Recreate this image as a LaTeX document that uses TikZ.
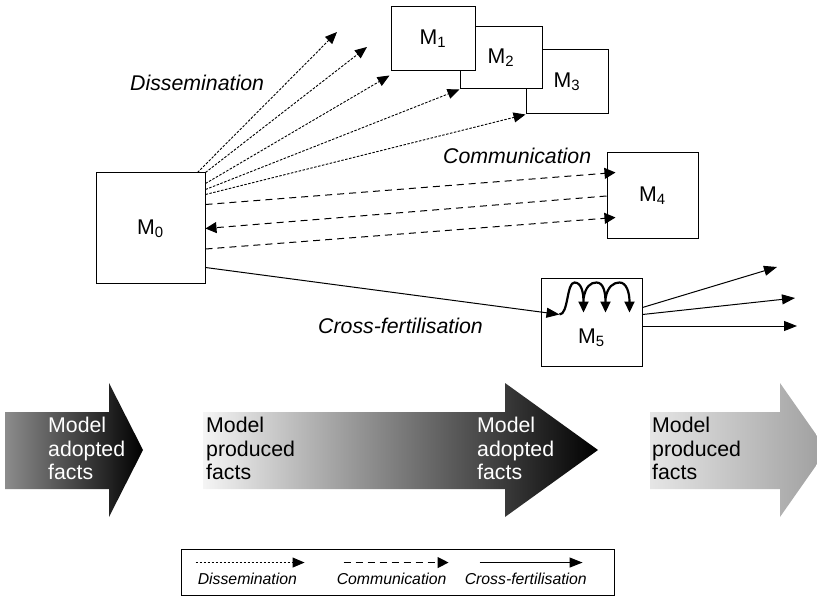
\documentclass[tikz,border=0pt]{standalone}
\usepackage{fontspec}
\setmainfont{Liberation Sans}
\usepackage{tikz}
\usetikzlibrary{arrows.meta,positioning,calc}

\newcommand{\mfont}{\fontsize{21.3pt}{23.5pt}\selectfont}
\newcommand{\legfont}{\fontsize{15.8pt}{18pt}\selectfont\itshape}

\begin{document}
\begin{tikzpicture}[
	x=1pt, y=-1pt,
	mbox/.style={rectangle, draw, fill=white, line width=1pt, inner sep=0pt, font=\mfont},
	dissem/.style={-{Triangle[length=12pt,width=10pt]}, dash pattern=on 2.5pt off 1.5pt, line width=0.9pt},
	commun/.style={-{Triangle[length=11pt,width=11pt]}, dash pattern=on 7pt off 5pt, line width=1pt},
	cross/.style={-{Triangle[length=13pt,width=10pt]}, line width=1pt},
	spiral/.style={-{Triangle[length=11pt,width=10pt]}, line width=2.2pt},
	flowlabel/.style={font={\mfont\itshape}, anchor=base west, inner sep=0pt},
	factstext/.style={font=\mfont, align=left, anchor=north west, inner sep=0pt},
	legtext/.style={font=\legfont, anchor=base west, inner sep=0pt}
]
\useasboundingbox (0,0) rectangle (817,596);

% models (M3 and M2 lie behind M1)
\node[mbox, minimum width=109pt, minimum height=111pt] (M0) at (150.5,228.5) {M\textsubscript{0}};
\node[mbox, minimum width=82pt, minimum height=64pt] (M3) at (567,82) {M\textsubscript{3}};
\node[mbox, minimum width=82pt, minimum height=62pt] (M2) at (501,58) {M\textsubscript{2}};
\node[mbox, minimum width=84pt, minimum height=64pt] (M1) at (433,39) {M\textsubscript{1}};
\node[mbox, minimum width=91pt, minimum height=86pt] (M4) at (652.5,196) {M\textsubscript{4}};
\node[mbox, minimum width=101pt, minimum height=87pt,
	label={[font=\mfont, yshift=-15pt]center:M\textsubscript{5}}] (M5) at (591.5,322.5) {};

% dissemination
\coordinate (d1) at (337,32);
\coordinate (d2) at (367,47);
\draw[dissem] ($(M0.north east)+(-8,0)$) -- (d1);
\draw[dissem] (M0.north east) -- (d2);
\draw[dissem] ($(M0.north east)+(0,11)$) -- ($(M1.south west)+(-1,4)$);
\draw[dissem] ($(M0.north east)+(0,17)$) -- (M2.south west);
\draw[dissem] ($(M0.north east)+(0,22)$) -- (M3.south west);

% communication
\draw[commun] ($(M0.north east)+(0,32)$) -- ($(M4.north west)+(9,20)$);
\draw[commun] (M4.west) -- (M0.east);
\draw[commun] ($(M0.east)+(0,20.5)$) -- ($(M4.south west)+(9,-22)$);

% cross-fertilisation
\draw[cross] ($(M0.south east)+(0,-17)$) -- ($(M5.north west)+(19,36)$);
\begin{scope}[shift={(M5.north west)}]
\draw[spiral] (19,36) .. controls (28,36) and (26,4) .. (34,4) .. controls (41,4) and (43,14) .. (43,34);
\draw[spiral] (43,20) .. controls (45,8) and (50,4) .. (56,4) .. controls (63,4) and (65,14) .. (65,34);
\draw[spiral] (65,20) .. controls (67,8) and (73,4) .. (79,4) .. controls (86,4) and (89,14) .. (89,34);
\end{scope}
\coordinate (o1) at (777,267);
\coordinate (o2) at (795,298);
\coordinate (o3) at (797,326);
\draw[cross] ($(M5.east)+(0,-15)$) -- (o1);
\draw[cross] ($(M5.east)+(0,-8)$) -- (o2);
\draw[cross] ($(M5.east)+(0,3.5)$) -- (o3);

\node[flowlabel] (dislabel) at (130,91) {Dissemination};
\node[flowlabel] (comlabel) at (443,164) {Communication};
\node[flowlabel] (crosslabel) at (318,334) {Cross-fertilisation};

% shaded fact arrows
\shade[left color=black!45, middle color=black!72, right color=black]
	(5,412) -- (109,412) -- (109,383) -- (143,450) -- (109,517) -- (109,489) -- (5,489) -- cycle;
\shade[left color=black!4, middle color=black!45, right color=black]
	(203,412) -- (505,412) -- (505,383) -- (598,450) -- (505,517) -- (505,489) -- (203,489) -- cycle;
\shade[left color=black!10, middle color=black!20, right color=black!38]
	(650,412) -- (780,412) -- (780,383) -- (827,450) -- (780,517) -- (780,489) -- (650,489) -- cycle;
\node[factstext, text=white] (adopted1) at (48,417) {Model\\adopted\\facts};
\node[factstext] (produced1) at (206,417) {Model\\produced\\facts};
\node[factstext, text=white] (adopted2) at (477,417) {Model\\adopted\\facts};
\node[factstext] (produced2) at (652,417) {Model\\produced\\facts};

% legend
\node[draw, line width=0.9pt, minimum width=433pt, minimum height=46pt, inner sep=0pt] (legend) at (397.5,572) {};
\draw[dissem] ($(legend.north west)+(15,14)$) -- ($(legend.north west)+(124,14)$);
\draw[commun] ($(legend.north west)+(163,14)$) -- ($(legend.north west)+(268,14)$);
\draw[cross] ($(legend.north west)+(299,14)$) -- ($(legend.north west)+(402,14)$);
\node[legtext] (legdis) at ($(legend.north west)+(17,36)$) {Dissemination};
\node[legtext] (legcom) at ($(legend.north west)+(156,36)$) {Communication};
\node[legtext] (legcross) at ($(legend.north west)+(284,36)$) {Cross-fertilisation};
\end{tikzpicture}
\end{document}
